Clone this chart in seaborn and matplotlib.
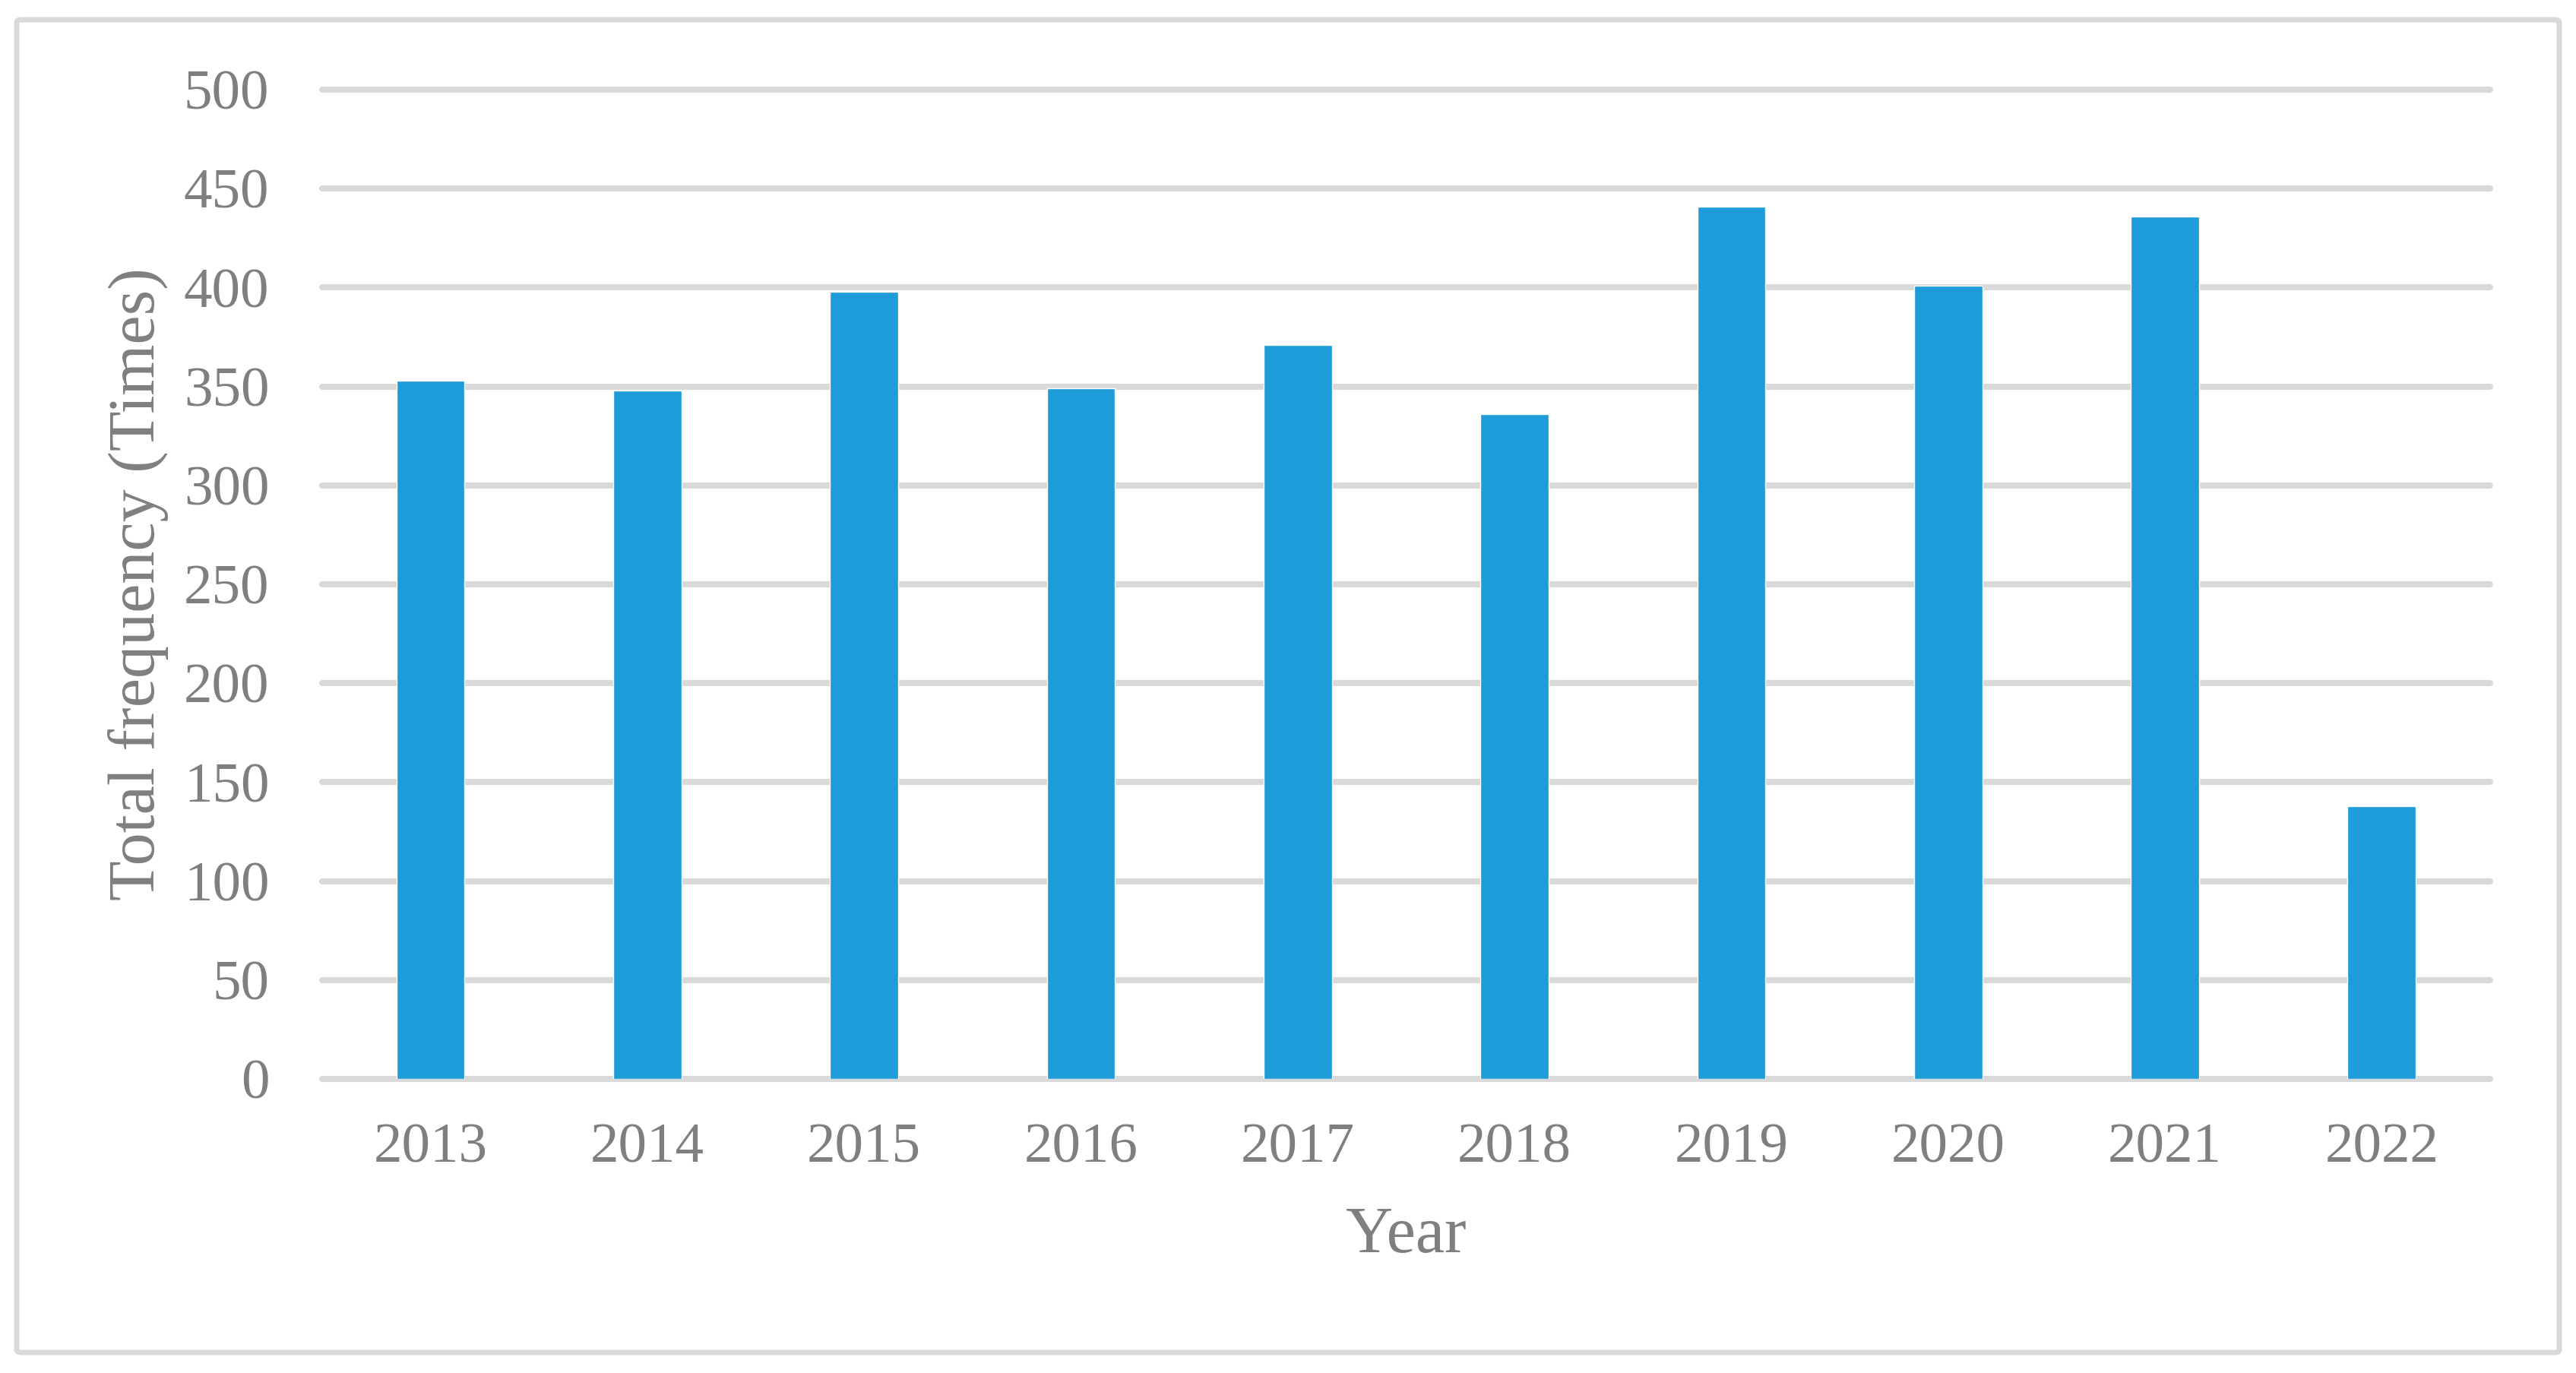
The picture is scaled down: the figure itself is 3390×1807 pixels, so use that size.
import pandas as pd
import seaborn as sns
import matplotlib.pyplot as plt
from matplotlib.patches import FancyBboxPatch

years = ["2013", "2014", "2015", "2016", "2017", "2018", "2019", "2020", "2021", "2022"]
frequency = [353, 348, 398, 349, 371, 336, 441, 401, 436, 138]
y_ticks = [0, 50, 100, 150, 200, 250, 300, 350, 400, 450, 500]

sns.set_theme(style="white")
plt.rcParams['font.family'] = ['Liberation Serif', 'DejaVu Serif']

text_grey = "#7f7f7f"
grid_grey = "#d9d9d9"
bar_blue = "#1d9cd9"

df = pd.DataFrame({"Year": years, "Frequency": frequency})

fig = plt.figure(figsize=(33.91, 18.07), dpi=100)
ax = fig.add_axes([0.125, 0.2142, 0.8414, 0.7205])

sns.barplot(data=df, x="Year", y="Frequency", color=bar_blue, width=0.315,
            saturation=1, ax=ax)

ax.set_ylim(0, 500)
ax.set_xlim(-0.5, len(years) - 0.5)
ax.set_yticks(y_ticks)
ax.set_axisbelow(True)
ax.yaxis.grid(True, color=grid_grey, linewidth=5.8)
ax.xaxis.grid(False)
for line in ax.get_ygridlines():
    line.set_clip_on(False)
for s in ax.spines.values():
    s.set_visible(False)

ax.tick_params(axis="both", length=0, labelsize=54, labelcolor=text_grey)
ax.tick_params(axis="y", pad=50)
ax.tick_params(axis="x", pad=42)
ax.set_xlabel("Year", fontsize=62, color=text_grey, labelpad=30)
ax.set_ylabel("Total frequency (Times)", fontsize=62, color=text_grey, labelpad=14)

# outer chart border
frame = FancyBboxPatch((22 / 3391, 1 - 1780 / 1807), (3368 - 22) / 3391, (1780 - 26) / 1807,
                       boxstyle="round,pad=0,rounding_size=0.002", transform=fig.transFigure,
                       facecolor="none", edgecolor=grid_grey, linewidth=5)
fig.patches.append(frame)

fig.savefig("out.png", dpi=100, facecolor="white")
